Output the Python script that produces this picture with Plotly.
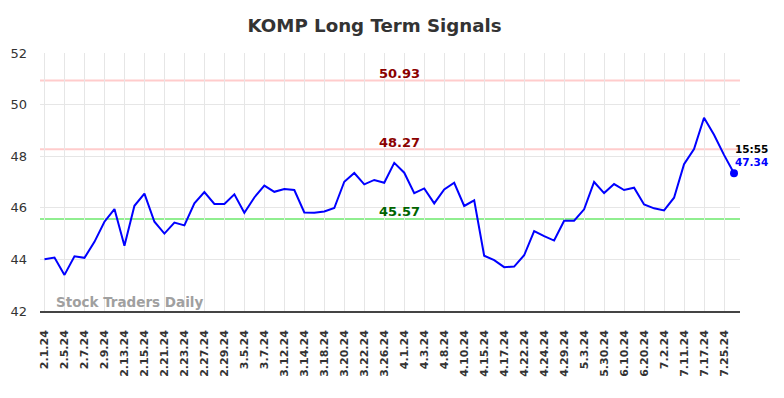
import plotly.graph_objects as go

dates = ["2.1.24","2.2.24","2.5.24","2.6.24","2.7.24","2.8.24","2.9.24","2.12.24","2.13.24","2.14.24",
         "2.15.24","2.16.24","2.21.24","2.22.24","2.23.24","2.26.24","2.27.24","2.28.24","2.29.24","3.1.24",
         "3.5.24","3.6.24","3.7.24","3.8.24","3.12.24","3.13.24","3.14.24","3.15.24","3.18.24","3.19.24",
         "3.20.24","3.21.24","3.22.24","3.25.24","3.26.24","3.27.24","4.1.24","4.2.24","4.3.24","4.4.24",
         "4.8.24","4.9.24","4.10.24","4.11.24","4.15.24","4.16.24","4.17.24","4.18.24","4.22.24","4.23.24",
         "4.24.24","4.25.24","4.29.24","4.30.24","5.3.24","5.6.24","5.30.24","6.3.24","6.10.24","6.13.24",
         "6.20.24","6.25.24","7.2.24","7.8.24","7.11.24","7.15.24","7.17.24","7.22.24","7.25.24","7.29.24"]

prices = [44.01, 44.07, 43.40, 44.12, 44.06, 44.68, 45.46, 45.95, 44.53, 46.08,
          46.55, 45.46, 45.00, 45.43, 45.32, 46.17, 46.61, 46.15, 46.15, 46.52,
          45.81, 46.40, 46.86, 46.62, 46.73, 46.69, 45.82, 45.81, 45.86, 45.99,
          47.01, 47.35, 46.91, 47.08, 46.97, 47.74, 47.36, 46.57, 46.75, 46.17,
          46.71, 46.97, 46.07, 46.29, 44.14, 43.97, 43.70, 43.72, 44.16, 45.10,
          44.90, 44.73, 45.50, 45.50, 45.94, 47.00, 46.57, 46.92, 46.69, 46.78,
          46.13, 45.98, 45.90, 46.39, 47.69, 48.28, 49.49, 48.83, 48.05, 47.34]

tick_labels = ["2.1.24","2.5.24","2.7.24","2.9.24","2.13.24","2.15.24","2.21.24","2.23.24","2.27.24",
               "2.29.24","3.5.24","3.7.24","3.12.24","3.14.24","3.18.24","3.20.24","3.22.24","3.26.24",
               "4.1.24","4.3.24","4.8.24","4.10.24","4.15.24","4.17.24","4.22.24","4.24.24","4.29.24",
               "5.3.24","5.30.24","6.10.24","6.20.24","7.2.24","7.11.24","7.17.24","7.25.24"]

resistance_levels = [50.93, 48.27]
support_levels = [45.57]
last_time = "15:55"

FONT = "DejaVu Sans"

fig = go.Figure()

for lvl in resistance_levels:
    fig.add_hline(y=lvl, line=dict(color="#ffcccc", width=2), layer="below")
for lvl in support_levels:
    fig.add_hline(y=lvl, line=dict(color="#90ee90", width=2), layer="below")

fig.add_trace(go.Scatter(x=dates, y=prices, mode="lines",
                         line=dict(color="#0000ff", width=2), hoverinfo="x+y"))
fig.add_trace(go.Scatter(x=[dates[-1]], y=[prices[-1]], mode="markers",
                         marker=dict(color="#0000ff", size=8), hoverinfo="skip"))

for lvl in resistance_levels:
    fig.add_annotation(x=0.514, xref="paper", y=lvl, yref="y", text=f"<b>{lvl:.2f}</b>",
                       showarrow=False, yanchor="middle", yshift=7,
                       font=dict(family=FONT, size=13, color="#8b0000"))
for lvl in support_levels:
    fig.add_annotation(x=0.514, xref="paper", y=lvl, yref="y", text=f"<b>{lvl:.2f}</b>",
                       showarrow=False, yanchor="middle", yshift=7,
                       font=dict(family=FONT, size=13, color="#006400"))

last_idx = len(dates) - 1
fig.add_annotation(x=last_idx, y=prices[-1], text=f"<b>{last_time}</b>", showarrow=False,
                   xanchor="left", xshift=-1, yshift=24, font=dict(family=FONT, size=10.5, color="#000000"))
fig.add_annotation(x=last_idx, y=prices[-1], text=f"<b>{prices[-1]:.2f}</b>", showarrow=False,
                   xanchor="left", xshift=-1, yshift=11, font=dict(family=FONT, size=10.5, color="#0000ff"))

fig.add_annotation(x=0.02, xref="paper", y=0.0, yref="paper", text="<b>Stock Traders Daily</b>",
                   showarrow=False, xanchor="left", yanchor="middle", yshift=9,
                   font=dict(family=FONT, size=13.5, color="#a0a0a0"))

fig.update_layout(
    width=768, height=382,
    margin=dict(l=32, r=36, t=45, b=79, autoexpand=False),
    paper_bgcolor="white", plot_bgcolor="white",
    showlegend=False,
    title=dict(text="<b>KOMP Long Term Signals</b>", x=0.478, xanchor="center", xref="paper",
               y=1 - 18 / 382, yanchor="middle",
               font=dict(family=FONT, size=18.2, color="#333333")),
    xaxis=dict(type="category", categoryorder="array", categoryarray=dates,
               range=[-0.45, 69.6], tickmode="array", tickvals=tick_labels,
               ticktext=[f"<b>{t}</b>" for t in tick_labels],
               tickangle=-90, tickfont=dict(family=FONT, size=11, color="#333333"),
               showgrid=True, gridcolor="#e6e6e6", gridwidth=1, automargin=False,
               showline=True, linecolor="#444444", linewidth=1.5, ticks="", zeroline=False,
               ticklabelstandoff=13),
    yaxis=dict(range=[42, 52], dtick=2, tickfont=dict(family=FONT, size=13, color="#333333"),
               showgrid=True, gridcolor="#e6e6e6", gridwidth=1, zeroline=False, ticks="",
               automargin=False, ticklabelstandoff=12),
)

fig.write_html("out.html")
